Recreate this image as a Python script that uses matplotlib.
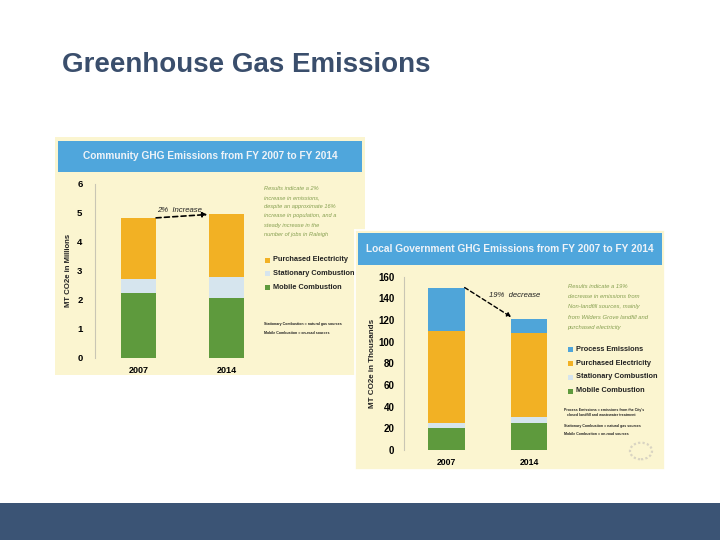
import matplotlib
matplotlib.use('Agg')
import matplotlib.pyplot as plt
from matplotlib.patches import Rectangle, Circle

plt.rcParams['font.family'] = ['Liberation Sans', 'DejaVu Sans']

# ── data ──────────────────────────────────────────────
years = ['2007', '2014']

# Community (MT CO2e in millions)
comm_mobile = [2.25, 2.06]
comm_stationary = [0.47, 0.72]
comm_electricity = [2.11, 2.17]

# Local government (MT CO2e in thousands)
gov_mobile = [20.0, 25.2]
gov_stationary = [4.6, 5.6]
gov_electricity = [85.2, 76.9]
gov_process = [40.2, 13.3]

comm_ticks = [0, 1, 2, 3, 4, 5, 6]
gov_ticks = [0, 20, 40, 60, 80, 100, 120, 140, 160]

comm_notes = ['Results indicate a 2%', 'increase in emissions,',
              'despite an approximate 16%', 'increase in population, and a',
              'steady increase in the', 'number of jobs in Raleigh']
gov_notes = ['Results indicate a 19%', 'decrease in emissions from',
             'Non-landfill sources, mainly', 'from Wilders Grove landfill and',
             'purchased electricity']
comm_foot = ['Stationary Combustion = natural gas sources',
             'Mobile Combustion = on-road sources']
gov_foot = ["Process Emissions = emissions from the City's",
            '   closed landfill and wastewater treatment',
            'Stationary Combustion = natural gas sources',
            'Mobile Combustion = on-road sources']

# ── colours ───────────────────────────────────────────
CREAM = '#fbf5d0'
HEADER = '#4fa6dc'
ORANGE = '#f2b124'
LIGHT = '#d6e5ee'
GREEN = '#5e9a3d'
PBLUE = '#4fa5d9'
NOTE = '#859f50'
TITLE = '#3a4e6c'
BAR = '#3b5475'

W, H = 720, 540


def fx(px):
    return px / W


def fy(py):
    return 1 - py / H


def rect(x0, y0, x1, y1):
    return [fx(x0), fy(y1), fx(x1) - fx(x0), fy(y0) - fy(y1)]


fig = plt.figure(figsize=(7.2, 5.4), dpi=100)
fig.patch.set_facecolor('white')

fig.text(fx(62), fy(65), 'Greenhouse Gas Emissions', fontsize=20,
         fontweight='bold', color=TITLE, va='center', ha='left')
fig.add_artist(Rectangle((0, 0), 1, fy(503), transform=fig.transFigure,
                         facecolor=BAR, edgecolor='none'))


def panel(x0, y0, x1, y1, hx0, hy0, hx1, hy1, title, tsize, z):
    bg = fig.add_axes(rect(x0, y0, x1, y1), zorder=z)
    bg.set_facecolor(CREAM)
    bg.set_xticks([])
    bg.set_yticks([])
    for s in bg.spines.values():
        s.set_visible(False)
    bg.add_patch(Rectangle((fx(hx0), fy(hy1)), fx(hx1) - fx(hx0),
                           fy(hy0) - fy(hy1), transform=fig.transFigure,
                           facecolor=HEADER, edgecolor='none'))
    bg.text(fx((hx0 + hx1) / 2), fy((hy0 + hy1) / 2), title,
            transform=fig.transFigure, ha='center', va='center',
            fontsize=tsize, fontweight='bold', color='#eef3f8')
    return bg


def bar_axes(x_axis, x_c0, spacing, y_top, y_bot, ymax, z):
    lo = -(x_c0 - x_axis) / spacing
    hi = 1.35
    width_px = (hi - lo) * spacing
    ax = fig.add_axes([fx(x_axis), fy(y_bot), width_px / W,
                       (y_bot - y_top) / H], zorder=z)
    ax.set_facecolor('none')
    ax.set_xlim(lo, hi)
    ax.set_ylim(0, ymax)
    for k in ['top', 'right', 'bottom']:
        ax.spines[k].set_visible(False)
    ax.spines['left'].set_color('#c9c6b4')
    ax.spines['left'].set_linewidth(0.8)
    ax.tick_params(axis='both', length=0)
    return ax


def legend(bg, x, ys, labels, colors, size):
    for y, lab, col in zip(ys, labels, colors):
        bg.add_patch(Rectangle((fx(x - 8.5), fy(y + 2.5)), 5 / W, 5 / H,
                               transform=fig.transFigure, facecolor=col,
                               edgecolor='none'))
        bg.text(fx(x), fy(y), lab, transform=fig.transFigure, ha='left',
                va='center', fontsize=size, fontweight='bold', color='#222222')


def lines(bg, x, ys, texts, **kw):
    for y, t in zip(ys, texts):
        bg.text(fx(x), fy(y), t, transform=fig.transFigure, ha='left',
                va='center', **kw)


# ── chart 1: community ───────────────────────────────
bg1 = panel(55, 137, 365, 375, 58, 141, 362, 172,
            'Community GHG Emissions from FY 2007 to FY 2014', 7.3, 1)
ax1 = bar_axes(95, 138.5, 88, 184, 357.7, 6, 2)
x = [0, 1]
w1 = 0.40
ax1.bar(x, comm_mobile, w1, color=GREEN)
b1 = [m for m in comm_mobile]
ax1.bar(x, comm_stationary, w1, bottom=b1, color=LIGHT)
b2 = [m + s for m, s in zip(comm_mobile, comm_stationary)]
ax1.bar(x, comm_electricity, w1, bottom=b2, color=ORANGE)
tot1 = [a + b for a, b in zip(b2, comm_electricity)]
ax1.set_yticks(comm_ticks)
ax1.set_yticklabels([str(t) for t in comm_ticks], fontsize=6.8,
                    fontweight='bold')
ax1.tick_params(axis='y', pad=9)
ax1.set_xticks(x)
ax1.set_xticklabels(years, fontsize=6.5, fontweight='bold')
ax1.tick_params(axis='x', pad=6)
ax1.annotate('', xy=(1 - w1 / 2, tot1[1]), xytext=(w1 / 2, tot1[0]),
             arrowprops=dict(arrowstyle='-|>', linestyle=(0, (3, 2)), lw=1.2,
                             color='black', mutation_scale=7,
                             shrinkA=0, shrinkB=1))
ax1.text(0.47, tot1[0] + 0.24, '2%  Increase', ha='center', va='center',
         fontsize=5.6, style='italic', color='#222222')
bg1.text(fx(68), fy(270), 'MT CO2e in Millions', transform=fig.transFigure,
         rotation=90, ha='center', va='center', fontsize=5.6,
         fontweight='bold', color='#222222')
lines(bg1, 264, [188.3, 197.7, 206.7, 216, 225, 234.3], comm_notes,
      fontsize=4.1, style='italic', color=NOTE)
legend(bg1, 273, [260, 273.3, 287.3],
       ['Purchased Electricity', 'Stationary Combustion', 'Mobile Combustion'],
       [ORANGE, LIGHT, GREEN], 5.3)
lines(bg1, 264, [324.3, 333], comm_foot, fontsize=2.6, fontweight='bold',
      color='#222222')

# ── chart 2: local government ────────────────────────
bg2 = panel(355, 230, 665, 470, 358, 233, 662, 265,
            'Local Government GHG Emissions from FY 2007 to FY 2014', 7.25, 3)
for s in bg2.spines.values():
    s.set_visible(True)
    s.set_color('white')
    s.set_linewidth(1.2)
ax2 = bar_axes(404, 446.5, 82.5, 276.7, 450, 160, 4)
w2 = 0.44
ax2.bar(x, gov_mobile, w2, color=GREEN)
c1 = list(gov_mobile)
ax2.bar(x, gov_stationary, w2, bottom=c1, color=LIGHT)
c2 = [a + b for a, b in zip(c1, gov_stationary)]
ax2.bar(x, gov_electricity, w2, bottom=c2, color=ORANGE)
c3 = [a + b for a, b in zip(c2, gov_electricity)]
ax2.bar(x, gov_process, w2, bottom=c3, color=PBLUE)
tot2 = [a + b for a, b in zip(c3, gov_process)]
ax2.set_yticks(gov_ticks)
ax2.set_yticklabels([str(t) for t in gov_ticks], fontsize=7,
                    fontweight='bold')
ax2.tick_params(axis='y', pad=7)
ax2.set_xticks(x)
ax2.set_xticklabels(years, fontsize=6.2, fontweight='bold')
ax2.tick_params(axis='x', pad=6)
ax2.annotate('', xy=(1 - w2 / 2 + 0.02, tot2[1] + 1), xytext=(w2 / 2, tot2[0]),
             arrowprops=dict(arrowstyle='-|>', linestyle=(0, (3, 2)), lw=1.0,
                             color='black', mutation_scale=6,
                             shrinkA=0, shrinkB=1))
ax2.text(0.82, 142.5, '19%  decrease', ha='center', va='center',
         fontsize=5.6, style='italic', color='#222222')
bg2.text(fx(372), fy(363), 'MT CO2e in Thousands', transform=fig.transFigure,
         rotation=90, ha='center', va='center', fontsize=5.8,
         fontweight='bold', color='#222222')
lines(bg2, 567.5, [286, 296.7, 306.7, 317.3, 327.3], gov_notes,
      fontsize=4.2, style='italic', color=NOTE)
legend(bg2, 576, [349.3, 363.3, 377, 391],
       ['Process Emissions', 'Purchased Electricity', 'Stationary Combustion',
        'Mobile Combustion'],
       [PBLUE, ORANGE, LIGHT, GREEN], 5.3)
lines(bg2, 564, [410.5, 415, 426, 434], gov_foot, fontsize=2.5,
      fontweight='bold', color='#222222')
bg2.add_patch(Circle((fx(641), fy(451)), 11 / W, transform=fig.transFigure,
                     facecolor='none', edgecolor='#d9d4c2', lw=1.6,
                     linestyle=(0, (1, 1))))

fig.savefig('out.png', dpi=100)
